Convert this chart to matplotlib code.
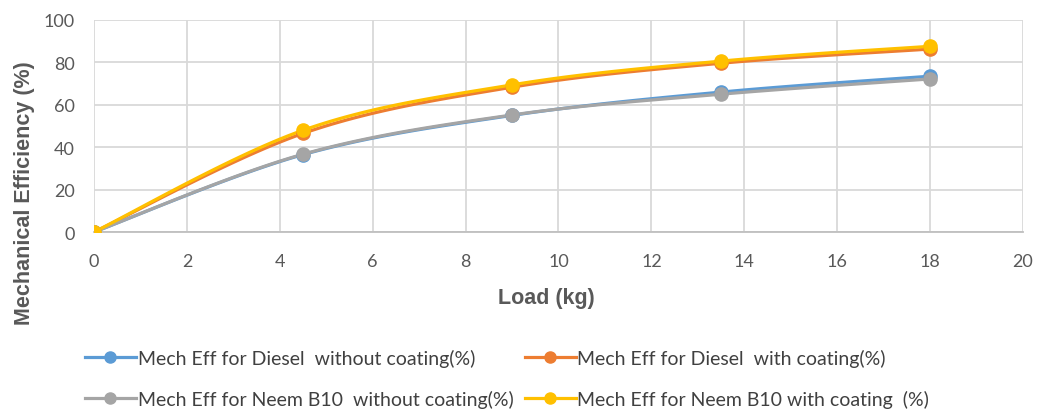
import numpy as np
import matplotlib.pyplot as plt
from matplotlib.lines import Line2D

load = [0, 4.5, 9, 13.5, 18]
diesel_no_coat = [0, 36.5, 55.0, 66.0, 73.5]
diesel_coat = [0, 46.5, 68.3, 79.6, 86.3]
neem_no_coat = [0, 36.7, 55.2, 65.0, 72.2]
neem_coat = [0, 48.0, 69.4, 80.6, 87.6]

labels = ['Mech Eff for Diesel  without coating(%)',
          'Mech Eff for Diesel  with coating(%)',
          'Mech Eff for Neem B10  without coating(%)',
          'Mech Eff for Neem B10 with coating  (%)']
colors = ['#5B9BD5', '#ED7D31', '#A5A5A5', '#FFC000']
series = [diesel_no_coat, diesel_coat, neem_no_coat, neem_coat]


def smooth(x, y, n=30):
    # excel-style smoothed line (catmull-rom bezier)
    p = np.column_stack([x, y]).astype(float)
    pts = [p[0]]
    for i in range(len(p) - 1):
        p0 = p[i - 1] if i > 0 else p[i]
        p3 = p[i + 2] if i + 2 < len(p) else p[i + 1]
        p1, p2 = p[i], p[i + 1]
        c1 = p1 + (p2 - p0) / 6
        c2 = p2 - (p3 - p1) / 6
        t = np.linspace(0, 1, n)[1:, None]
        b = ((1 - t) ** 3) * p1 + 3 * ((1 - t) ** 2) * t * c1 + 3 * (1 - t) * t ** 2 * c2 + t ** 3 * p2
        pts.extend(b)
    pts = np.array(pts)
    return pts[:, 0], pts[:, 1]


fig = plt.figure(figsize=(10.41, 4.1), dpi=100)
ax = fig.add_axes([0.0903, 0.4317, 0.8924, 0.5171])

for vals, c in zip(series, colors):
    sx, sy = smooth(load, vals)
    ax.plot(sx, sy, color=c, lw=2.3, solid_capstyle='round', zorder=3)
    ax.plot(load, vals, 'o', color=c, ms=9.5, zorder=4)

ax.set_xlim(0, 20)
ax.set_ylim(0, 100)
ax.set_xticks(range(0, 21, 2))
ax.set_yticks(range(0, 101, 20))
ax.grid(True, color='#D9D9D9', lw=1.3)
ax.set_axisbelow(True)
for s in ['top', 'right', 'left']:
    ax.spines[s].set_visible(False)
ax.spines['bottom'].set_color('#BFBFBF')
ax.spines['bottom'].set_linewidth(1.3)
ax.tick_params(length=0, labelsize=13, labelcolor='#595959')
ax.tick_params(axis='x', pad=15)
ax.tick_params(axis='y', pad=14)
for lab in ax.get_xticklabels() + ax.get_yticklabels():
    lab.set_family('Lato')

ax.set_xlabel('Load (kg)', fontsize=15.5, fontweight='bold', color='#595959',
              family='Liberation Sans')
ax.xaxis.set_label_coords(0.487, -0.26)
ax.set_ylabel('Mechanical Efficiency (%)', fontsize=15.5, fontweight='bold', color='#595959',
              family='Liberation Sans')
ax.yaxis.set_label_coords(-0.064, 0.19)

# reorder so the legend fills row by row
order = [0, 2, 1, 3]
handles = [Line2D([], [], color=colors[i], lw=2.3, marker='o', ms=8) for i in order]
fig.legend(handles, [labels[i] for i in order], loc='upper left',
           bbox_to_anchor=(0.0817, 0.146), ncol=2, frameon=False,
           prop={'family': 'Lato', 'size': 14}, labelcolor='#404040',
           handlelength=2.6, handletextpad=0.1, columnspacing=0.6,
           labelspacing=1.15, borderpad=0, borderaxespad=0)

fig.savefig('out.png', dpi=100)
